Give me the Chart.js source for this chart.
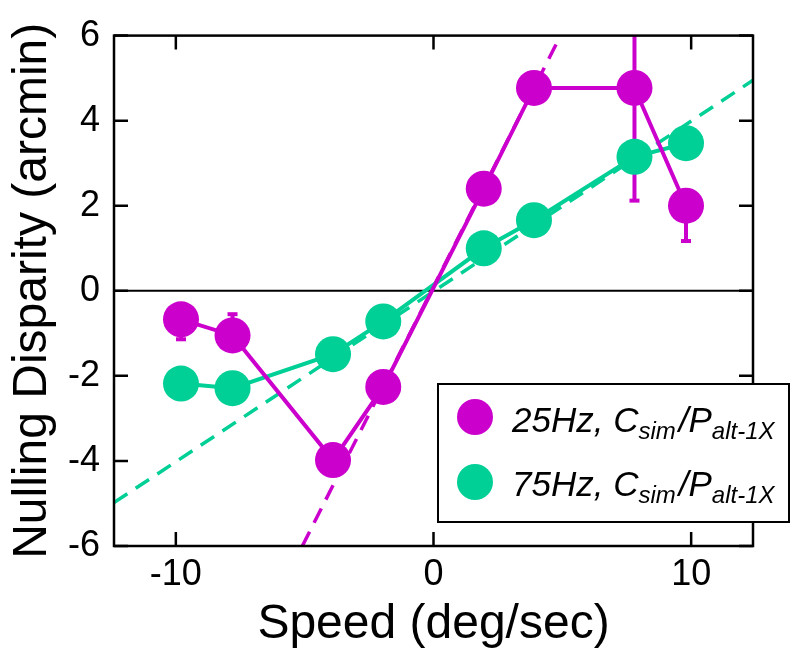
<!DOCTYPE html>
<html>
<head>
<meta charset="utf-8">
<script src="https://cdn.jsdelivr.net/npm/chart.js@4/dist/chart.umd.min.js"></script>
<style>
  body { margin: 0; background: #fff; }
  #wrap { width: 800px; height: 661px; }
</style>
</head>
<body>
<div id="wrap"><canvas id="chart" width="800" height="661"></canvas></div>
<script>
// данные
var speeds = [-9.8, -7.8, -3.9, -1.95, 1.95, 3.9, 7.8, 9.8];
var disp25 = [-0.67, -1.05, -3.98, -2.26, 2.40, 4.77, 4.77, 2.0];
var disp75 = [-2.18, -2.29, -1.49, -0.72, 1.0, 1.66, 3.15, 3.47];
var err25Low = [0.47, 0, 0, 0, 0, 0, 2.65, 0.83];
var err25High = [0, 0.5, 0, 0, 0, 0, 2.65, 0];
var fit25X = [-5.09, 4.93];
var fit25Y = [-6, 6];
var fit75X = [-12.4, 12.4];
var fit75Y = [-4.98, 4.95];
var xTicks = [-10, 0, 10];
var yTicks = [-6, -4, -2, 0, 2, 4, 6];

var MAGENTA = '#cc00cc';
var GREEN = '#00cf96';
var FONT = '"Liberation Sans", Arial, sans-serif';

function pts(xs, ys) {
  return xs.map(function(x, i) { return {x: x, y: ys[i]}; });
}

// рамка, засечки внутрь и линия нуля
var framePlugin = {
  id: 'frame',
  beforeDatasetsDraw: function(chart) {
    var c = chart.ctx, a = chart.chartArea, ys = chart.scales.y, xs = chart.scales.x;
    c.save();
    c.strokeStyle = '#000';
    c.lineWidth = 2;
    var y0 = ys.getPixelForValue(0);
    c.beginPath(); c.moveTo(a.left, y0); c.lineTo(a.right, y0); c.stroke();
    // планки погрешностей
    c.strokeStyle = MAGENTA;
    c.lineWidth = 4;
    speeds.forEach(function(s, i) {
      var px = xs.getPixelForValue(s);
      [[err25Low[i], -1], [err25High[i], 1]].forEach(function(e) {
        if (!e[0]) return;
        var v = disp25[i] + e[1] * e[0];
        var py = ys.getPixelForValue(v);
        var pyc = Math.max(a.top, Math.min(a.bottom, py));
        c.beginPath();
        c.moveTo(px, ys.getPixelForValue(disp25[i]));
        c.lineTo(px, pyc);
        c.stroke();
        if (py >= a.top && py <= a.bottom) {
          c.beginPath(); c.moveTo(px - 5, py); c.lineTo(px + 5, py); c.stroke();
        }
      });
    });
    c.restore();
  },
  afterDraw: function(chart) {
    var c = chart.ctx, a = chart.chartArea, ys = chart.scales.y, xs = chart.scales.x;
    c.save();
    c.strokeStyle = '#000';
    c.lineWidth = 2.5;
    c.strokeRect(a.left, a.top, a.right - a.left, a.bottom - a.top);
    var tl = 14;
    c.beginPath();
    xTicks.forEach(function(v) {
      var px = xs.getPixelForValue(v);
      c.moveTo(px, a.bottom); c.lineTo(px, a.bottom - tl);
      c.moveTo(px, a.top); c.lineTo(px, a.top + tl);
    });
    yTicks.forEach(function(v) {
      var py = ys.getPixelForValue(v);
      c.moveTo(a.left, py); c.lineTo(a.left + tl, py);
      c.moveTo(a.right, py); c.lineTo(a.right - tl, py);
    });
    c.stroke();

    // легенда
    var bx = 438, by = 384, bw = 351, bh = 138;
    c.fillStyle = '#fff';
    c.fillRect(bx, by, bw, bh);
    c.lineWidth = 2;
    c.strokeRect(bx, by, bw, bh);
    var rows = [
      {color: MAGENTA, head: '25Hz, ', y: 432, cy: 417},
      {color: GREEN, head: '75Hz, ', y: 496, cy: 482}
    ];
    rows.forEach(function(r) {
      c.fillStyle = r.color;
      c.beginPath(); c.arc(475, r.cy, 18, 0, Math.PI * 2); c.fill();
      c.fillStyle = '#000';
      c.textBaseline = 'alphabetic';
      c.textAlign = 'left';
      var x = 512;
      var big = 'italic 35px ' + FONT, small = 'italic 24px ' + FONT;
      var parts = [[r.head + 'C', big, 0, 0], ['sim', small, 7, 3], ['/', big, 0, 0], ['P', big, 0, 0], ['alt-1X', small, 7, 0]];
      parts.forEach(function(p) {
        c.font = p[1];
        c.fillText(p[0], x, r.y + p[2]);
        x += c.measureText(p[0]).width + p[3];
      });
    });
    c.restore();
  }
};

var ctx = document.getElementById('chart').getContext('2d');
var chart = new Chart(ctx, {
  type: 'scatter',
  data: {
    datasets: [
      {
        label: '25Hz',
        data: pts(speeds, disp25),
        showLine: true,
        borderColor: MAGENTA,
        backgroundColor: MAGENTA,
        borderWidth: 4,
        pointRadius: 18,
        pointBorderWidth: 0,
        pointHoverRadius: 18,
        order: 1
      },
      {
        label: '75Hz',
        data: pts(speeds, disp75),
        showLine: true,
        borderColor: GREEN,
        backgroundColor: GREEN,
        borderWidth: 4,
        pointRadius: 18,
        pointBorderWidth: 0,
        pointHoverRadius: 18,
        order: 2
      },
      {
        label: 'fit 25',
        data: pts(fit25X, fit25Y),
        showLine: true,
        borderColor: MAGENTA,
        borderWidth: 3.5,
        borderDash: [16, 10],
        pointRadius: 0,
        order: 3
      },
      {
        label: 'fit 75',
        data: pts(fit75X, fit75Y),
        showLine: true,
        borderColor: GREEN,
        borderWidth: 3.5,
        borderDash: [16, 10],
        pointRadius: 0,
        order: 4
      }
    ]
  },
  options: {
    responsive: false,
    animation: false,
    layout: { padding: { top: 30, right: 47, left: 0, bottom: 0 } },
    plugins: {
      legend: { display: false },
      tooltip: { enabled: false }
    },
    scales: {
      x: {
        type: 'linear',
        min: -12.4,
        max: 12.4,
        afterBuildTicks: function(s) { s.ticks = xTicks.map(function(v) { return {value: v}; }); },
        afterFit: function(s) { s.height = 115; },
        grid: { display: false, drawTicks: false },
        border: { display: false },
        ticks: { color: '#000', padding: 7, font: { size: 36, family: FONT } },
        title: { display: true, text: 'Speed (deg/sec)', color: '#000', padding: { top: 0, bottom: 7 }, font: { size: 48, family: FONT } }
      },
      y: {
        min: -6,
        max: 6,
        afterBuildTicks: function(s) { s.ticks = yTicks.map(function(v) { return {value: v}; }); },
        afterFit: function(s) { s.width = 114; },
        grid: { display: false, drawTicks: false },
        border: { display: false },
        ticks: { color: '#000', padding: 14, font: { size: 36, family: FONT } },
        title: { display: true, text: 'Nulling Disparity (arcmin)', color: '#000', padding: { top: 4, bottom: 0 }, font: { size: 48, family: FONT } }
      }
    }
  },
  plugins: [framePlugin]
});
</script>
</body>
</html>
